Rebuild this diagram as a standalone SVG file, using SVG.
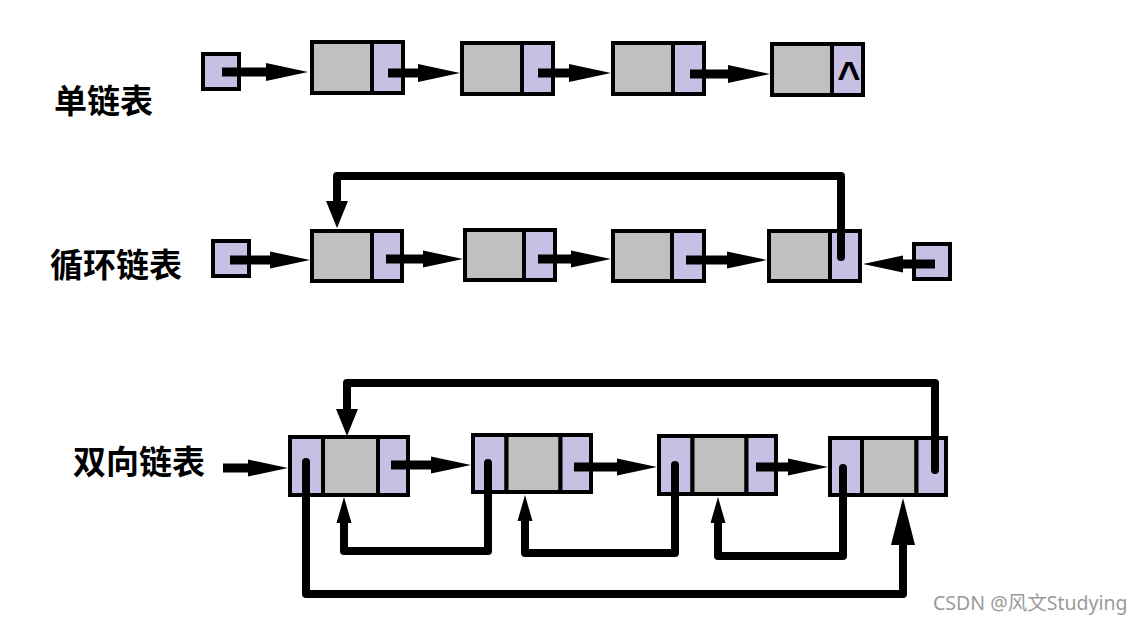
<svg xmlns="http://www.w3.org/2000/svg" width="1140" height="624" viewBox="0 0 1140 624">
<style>
.g{fill:#C0C0C0;stroke:#000;stroke-width:4}
.p{fill:#C7C0E4;stroke:#000;stroke-width:4}
.sh{fill:none;stroke:#000;stroke-width:9}
.lp{fill:none;stroke:#000;stroke-width:8;stroke-linecap:round;stroke-linejoin:round}
.lb{font-family:"Noto Sans CJK SC","Noto Sans",sans-serif;font-weight:bold;font-size:33px;fill:#000}
.wm{font-family:"Noto Sans","Noto Sans CJK SC",sans-serif;font-size:19.5px;fill:#9a9a9a}
</style>
<defs>
<marker id="a1" markerUnits="userSpaceOnUse" viewBox="0 -10 44 20" markerWidth="44" markerHeight="20" refX="0" refY="0" orient="auto"><path d="M0,-9 L42,0 L0,9 Z"/></marker>
<marker id="a2" markerUnits="userSpaceOnUse" viewBox="0 -10 42 20" markerWidth="42" markerHeight="20" refX="0" refY="0" orient="auto"><path d="M0,-8.5 L40,0 L0,8.5 Z"/></marker>
<marker id="adn" markerUnits="userSpaceOnUse" viewBox="0 -12 30 24" markerWidth="30" markerHeight="24" refX="0" refY="0" orient="auto"><path d="M0,-11 L27,0 L0,11 Z"/></marker>
<marker id="aup" markerUnits="userSpaceOnUse" viewBox="0 -8 28 16" markerWidth="28" markerHeight="16" refX="0" refY="0" orient="auto"><path d="M0,-7.5 L26,0 L0,7.5 Z"/></marker>
<marker id="abig" markerUnits="userSpaceOnUse" viewBox="0 -13 48 26" markerWidth="48" markerHeight="26" refX="0" refY="0" orient="auto"><path d="M0,-12 L47,0 L0,12 Z"/></marker>
</defs>
<rect width="1140" height="624" fill="#fff"/>

<g id="labels">
<text class="lb" x="54" y="113">单链表</text>
<text class="lb" x="50" y="277">循环链表</text>
<text class="lb" x="73" y="474">双向链表</text>
</g>

<!-- Row 1: singly linked list -->
<g id="s-head"><rect class="p" x="203" y="54" width="36" height="35"/></g>
<g id="s-n1"><rect class="g" x="312" y="42" width="60" height="51"/><rect class="p" x="372" y="42" width="31" height="51"/></g>
<g id="s-n2"><rect class="g" x="462" y="43" width="60" height="51"/><rect class="p" x="522" y="43" width="31" height="51"/></g>
<g id="s-n3"><rect class="g" x="613" y="43" width="60" height="51"/><rect class="p" x="673" y="43" width="31" height="51"/></g>
<g id="s-n4"><rect class="g" x="772" y="44" width="60" height="51"/><rect class="p" x="832" y="44" width="31" height="51"/>
<text x="849" y="90" text-anchor="middle" font-family="Liberation Sans,Arial,sans-serif" font-weight="bold" font-size="40">^</text></g>

<!-- Row 2: circular list -->
<g id="c-head"><rect class="p" x="213" y="241" width="36" height="35"/></g>
<g id="c-n1"><rect class="g" x="312" y="231" width="60" height="50"/><rect class="p" x="372" y="231" width="30" height="50"/></g>
<g id="c-n2"><rect class="g" x="465" y="230" width="59" height="50"/><rect class="p" x="524" y="230" width="31" height="50"/></g>
<g id="c-n3"><rect class="g" x="613" y="231" width="59" height="50"/><rect class="p" x="672" y="231" width="32" height="50"/></g>
<g id="c-n4"><rect class="g" x="769" y="231" width="61" height="50"/><rect class="p" x="830" y="231" width="30" height="50"/></g>
<g id="c-tail"><rect class="p" x="914" y="244" width="36" height="35"/></g>

<!-- Row 3: doubly linked list -->
<g id="d-n1"><rect class="p" x="290" y="437" width="33" height="58"/><rect class="g" x="323" y="437" width="55" height="58"/><rect class="p" x="378" y="437" width="30" height="58"/></g>
<g id="d-n2"><rect class="p" x="473" y="435" width="33.5" height="57"/><rect class="g" x="506.5" y="435" width="54" height="57"/><rect class="p" x="560.5" y="435" width="30.5" height="57"/></g>
<g id="d-n3"><rect class="p" x="659" y="436" width="33.5" height="58"/><rect class="g" x="692.5" y="436" width="54" height="58"/><rect class="p" x="746.5" y="436" width="29.5" height="58"/></g>
<g id="d-n4"><rect class="p" x="830" y="438" width="32" height="57"/><rect class="g" x="862" y="438" width="54.5" height="57"/><rect class="p" x="916.5" y="438" width="29.5" height="57"/></g>

<g id="connectors">
<path class="sh" d="M222,72 H266" marker-end="url(#a1)"/>
<path class="sh" d="M388,73 H418" marker-end="url(#a1)"/>
<path class="sh" d="M538,73 H569" marker-end="url(#a1)"/>
<path class="sh" d="M690,74 H728" marker-end="url(#a1)"/>

<path class="sh" d="M230,260 H270" marker-end="url(#a2)"/>
<path class="sh" d="M386,259 H423" marker-end="url(#a2)"/>
<path class="sh" d="M538,259 H571" marker-end="url(#a2)"/>
<path class="sh" d="M686,260 H727" marker-end="url(#a2)"/>
<path class="sh" d="M935,264 H903" marker-end="url(#a2)"/>
<path class="lp" d="M841,257 V176 H337 V201" marker-end="url(#adn)"/>

<path class="sh" d="M223,468 H248" marker-end="url(#a2)"/>
<path class="sh" d="M391,465 H431" marker-end="url(#a2)"/>
<path class="sh" d="M574,467 H617" marker-end="url(#a2)"/>
<path class="sh" d="M756,467 H788" marker-end="url(#a2)"/>
<path class="lp" d="M935,470 V383 H347 V409" marker-end="url(#adn)"/>
<path class="lp" d="M306,462 V594 H903 V545" marker-end="url(#abig)"/>
<path class="lp" d="M488,463 V551 H344 V523" marker-end="url(#aup)"/>
<path class="lp" d="M675,465 V553 H525 V521" marker-end="url(#aup)"/>
<path class="lp" d="M843,468 V556 H718 V523" marker-end="url(#aup)"/>
</g>

<text class="wm" x="933" y="610">CSDN @风文Studying</text>
</svg>
